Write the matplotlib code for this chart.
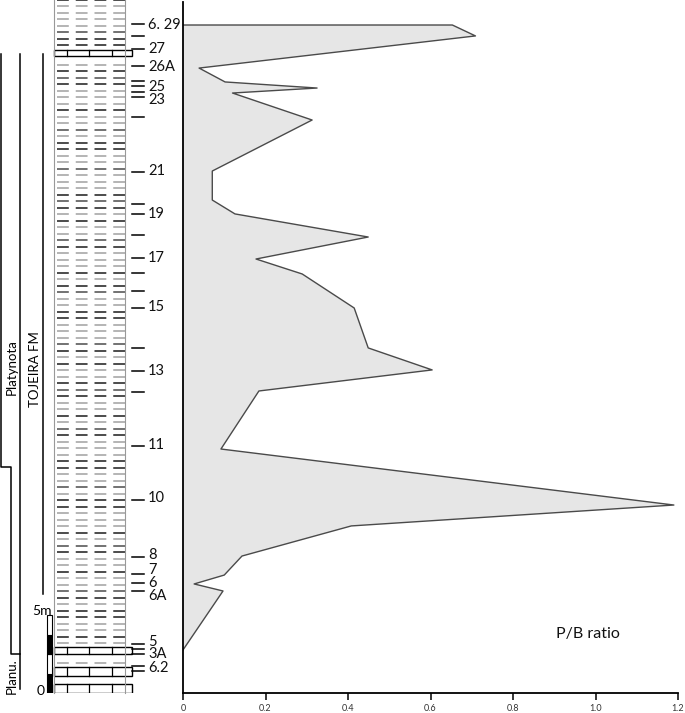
import matplotlib
matplotlib.use("Agg")
import matplotlib.pyplot as plt
import numpy as np
from matplotlib.patches import Rectangle

plt.rcParams['font.family'] = ['Lato', 'DejaVu Sans']
plt.rcParams['lines.scale_dashes'] = False

# ---------------- data ----------------
# P/B ratio profile (height in metres above section base)
pb_height = [42.82, 42.82, 42.12, 40.06, 39.17, 38.78, 38.46, 36.73, 33.46, 31.60,
             30.71, 29.23, 27.82, 26.86, 24.68, 22.12, 20.71, 19.36, 15.64, 12.05,
             10.71, 8.78, 7.56, 6.99, 6.54, 2.76]
pb_ratio = [0.0, 0.653, 0.709, 0.039, 0.102, 0.325, 0.120, 0.313, 0.071, 0.071,
            0.126, 0.449, 0.177, 0.289, 0.415, 0.449, 0.604, 0.184, 0.092, 1.19,
            0.408, 0.143, 0.100, 0.027, 0.097, 0.0]

# sample levels (ticks) and sample names
sample_ticks = [42.88, 42.12, 41.28, 40.19, 39.23, 38.91, 38.53, 38.21, 36.92, 33.40,
                31.35, 30.71, 29.36, 27.88, 26.92, 25.77, 24.68, 22.12, 20.64, 19.29,
                15.83, 12.37, 8.72, 7.63, 7.05, 6.54, 3.14, 2.82, 2.50, 1.73, 1.41]
sample_names = ["6. 29", "27", "26A", "25", "23", "21", "19", "17", "15", "13",
                "11", "10", "8", "7", "6", "6A", "5", "3A", "6.2"]
sample_name_y = [42.82, 41.28, 40.13, 38.85, 38.01, 33.46, 30.71, 27.88, 24.74, 20.64,
                 15.90, 12.50, 8.85, 7.90, 7.02, 6.20, 3.30, 2.50, 1.60]

# limestone beds (bottom, top) in metres
limestone_beds = [(40.83, 41.22), (2.48, 2.95), (1.09, 1.67), (0.0, 0.6)]

x_ticks = [0, 0.2, 0.4, 0.6, 0.8, 1.0, 1.2]
x_ticklabels = ["0", "0.2", "0.4", "0.6", "0.8", "1.0", "1.2"]

# ---------------- figure ----------------
W, H = 685, 713
fig = plt.figure(figsize=(W / 100, H / 100), dpi=100)
ymax = 691 / 15.6
base = 20

ax = fig.add_axes([183 / W, base / H, (678 - 183) / W, 691 / H])
ax.set_xlim(0, 1.2)
ax.set_ylim(0, ymax)
ax.fill_betweenx(pb_height, 0, pb_ratio, facecolor='#e6e6e6', edgecolor='none')
ax.plot(pb_ratio, pb_height, color='#4a4a4a', lw=1.0)
for s in ['top', 'right']:
    ax.spines[s].set_visible(False)
ax.spines['left'].set_linewidth(1.3)
ax.spines['bottom'].set_linewidth(1.3)
ax.set_yticks([])
ax.set_xticks(x_ticks)
ax.set_xticklabels(x_ticklabels, fontsize=6.5, color='#333333')
ax.tick_params(axis='x', direction='out', length=5, width=1.1, pad=3)
ax.text(0.905, 3.8, "P/B ratio", fontsize=11.5, ha='left', va='center', color='#111111')

# ---------------- lithology log ----------------
lx = fig.add_axes([0, base / H, 183 / W, 691 / H])
lx.set_xlim(0, 183)
lx.set_ylim(0, ymax)
lx.axis('off')

col_l, col_r, bed_r = 54, 125, 132
# marl / shale rows (dashed)
shade = "DLLLLMDDMDLDMDLLLDLLMLDDLLMLLLDMDLDLLMDLLLDLDMLLDDLLLMDLDLLDMDLLDLMDLLLDDLLMLDDLLLDLMDLLDLLMDLDDLL"
colors = {'D': '#2e2e2e', 'M': '#5a5a5a', 'L': '#a8a8a8'}
row_y = np.arange(ymax + 0.15, 0.5, -6.5 / 15.6)
for i, y in enumerate(row_y):
    inbed = any(b - 0.15 <= y <= t + 0.15 for b, t in limestone_beds)
    if inbed:
        continue
    c = colors[shade[i % len(shade)]]
    lx.plot([col_l + 3, col_r], [y, y], color=c, lw=1.2, ls=(0, (8.5, 5)),
            solid_capstyle='butt', dash_capstyle='butt', clip_on=False)
# column borders
lx.plot([col_l, col_l], [0, ymax + 0.2], color='#999999', lw=0.8, clip_on=False)
lx.plot([col_r, col_r], [0, ymax + 0.2], color='#999999', lw=0.8, clip_on=False)
# limestone beds
for b, t in limestone_beds:
    lx.add_patch(Rectangle((col_l, b), bed_r - col_l, t - b, facecolor='white',
                           edgecolor='black', lw=1.0))
    for vx in (67, 89, 112):
        lx.plot([vx, vx], [b, t], color='black', lw=0.9)

# sample ticks and names
for y in sample_ticks:
    lx.plot([132, 144], [y, y], color='black', lw=1.1)
for name, y in zip(sample_names, sample_name_y):
    lx.text(148, y, name, fontsize=10.5, ha='left', va='center', color='#111111')

# biostratigraphy / formation lines
def m(py):
    return (694 - py) / 15.6

lx.plot([1, 1, 11, 11, 20], [m(55), m(468), m(468), m(655), m(655)], color='black', lw=1.1)
lx.plot([20, 20], [m(55), m(690)], color='black', lw=1.1)
lx.plot([43, 43], [m(55), m(595)], color='black', lw=1.1)
lx.text(12, m(368), "Platynota", rotation=90, fontsize=9.5, ha='center', va='center')
lx.text(35, m(370), "TOJEIRA FM", rotation=90, fontsize=9.5, ha='center', va='center')
lx.text(12, m(677), "Planu.", rotation=90, fontsize=9.5, ha='center', va='center')

# scale bar (5 m)
for k in range(4):
    lx.add_patch(Rectangle((47, k * 1.25), 5, 1.25,
                           facecolor='black' if k % 2 == 0 else 'white',
                           edgecolor='black', lw=0.8))
lx.text(52, 5.25, "5m", fontsize=10, ha='right', va='center')
lx.text(45, 0.1, "0", fontsize=10, ha='right', va='center')

fig.savefig("out.png", dpi=100)
